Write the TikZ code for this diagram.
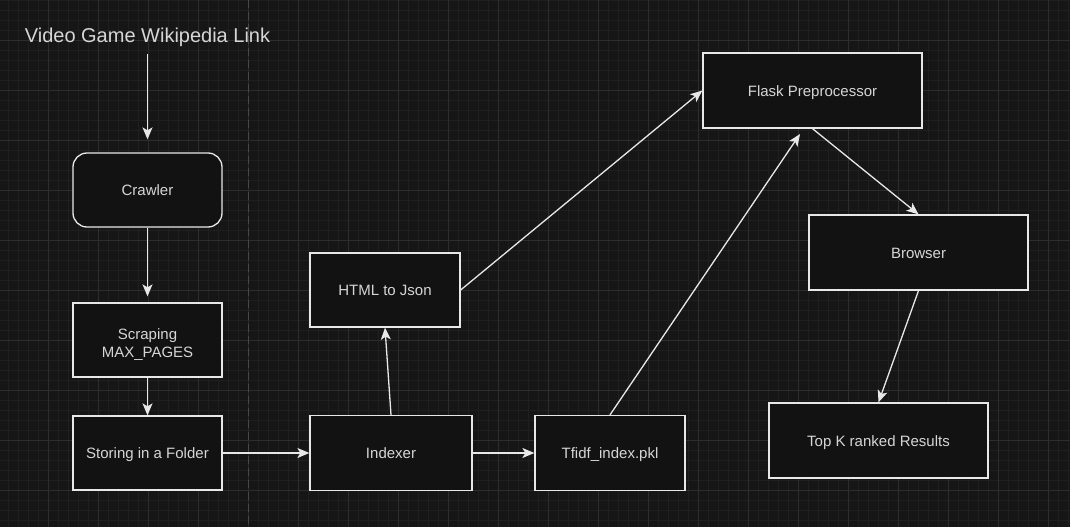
\documentclass[tikz,border=0pt]{standalone}
\usepackage{fontspec}
\setmainfont{Liberation Sans}
\usetikzlibrary{arrows.meta}

\definecolor{canvas}{RGB}{22,22,22}
\definecolor{gridminor}{RGB}{31,31,31}
\definecolor{gridmajor}{RGB}{45,45,45}
\definecolor{boxfill}{RGB}{18,18,18}
\definecolor{inkline}{RGB}{232,232,232}
\definecolor{inktext}{RGB}{214,214,214}
\definecolor{splitgray}{RGB}{72,72,72}

\begin{document}
\begin{tikzpicture}[x=1pt,y=-1pt,
	block/.style={draw=inkline, line width=1.3pt, fill=boxfill, text=inktext, minimum width=150pt, minimum height=75pt, align=center, text height=14pt, text depth=3pt, font=\fontsize{15}{18}\selectfont},
	wideblock/.style={block, minimum width=219pt},
	flow/.style={draw=inkline, line width=1.3pt, -{Stealth[length=12pt,width=10pt,inset=3pt]}}]
				% canvas and grid
				\fill[canvas] (0,0) rectangle (1070,527);
				\useasboundingbox (0,0) rectangle (1070,527);
				\foreach \x in {8,18,...,1068} \draw[gridminor, line width=0.8pt] (\x,0) -- (\x,527);
				\foreach \y in {0,10,...,520} \draw[gridminor, line width=0.8pt] (0,\y) -- (1070,\y);
				\foreach \x in {48,98,...,1048} \draw[gridmajor, line width=0.8pt] (\x,0) -- (\x,527);
				\foreach \y in {40,90,...,490} \draw[gridmajor, line width=0.8pt] (0,\y) -- (1070,\y);
				\draw[splitgray, line width=1pt, dash pattern=on 8pt off 4pt] (248,0) -- (248,527);
				
				% blocks
				\node[text=inktext, anchor=base, inner sep=0pt, font=\fontsize{20}{24}\selectfont] (title) at (147.5,42) {Video Game Wikipedia Link};
				\node[block, rounded corners=14pt, minimum width=149pt, minimum height=74pt] (crawler) at (147.5,190) {Crawler};
				\node[block, minimum width=149pt, minimum height=74pt, text height={}, text depth={}] (scraping) at (147.5,340) {\rule{0pt}{19pt}Scraping\\MAX\_PAGES};
				\node[block, minimum width=149pt, minimum height=74pt] (storing) at (147.5,453) {Storing in a Folder};
				\node[block, minimum width=162pt] (indexer) at (391,453) {Indexer};
				\node[block] (tfidf) at (610,453) {Tfidf\_index.pkl};
				\node[block, minimum height=74pt] (html) at (385,290) {HTML to Json};
				\node[wideblock] (flask) at (812.5,90.5) {Flask Preprocessor};
				\node[wideblock] (browser) at (918.5,252.5) {Browser};
				\node[wideblock] (topk) at (878.5,440.5) {Top K ranked Results};
				\coordinate (flaskin) at (800,134);
				
				% connectors
				\draw[flow, shorten <=8pt, shorten >=13pt] (title.south) -- (crawler.north);
				\draw[flow, shorten >=6pt] (crawler.south) -- (scraping.north);
				\draw[flow] (scraping.south) -- (storing.north);
				\draw[flow] (storing.east) -- (indexer.west);
				\draw[flow] (indexer.east) -- (tfidf.west);
				\draw[flow] (indexer.north) -- (html.south);
				\draw[flow] (html.east) -- (flask.west);
				\draw[flow] (tfidf.north) -- (flaskin);
				\draw[flow] (flask.south) -- (browser.north);
				\draw[flow] (browser.south) -- (topk.north);
			\end{tikzpicture}
\end{document}
